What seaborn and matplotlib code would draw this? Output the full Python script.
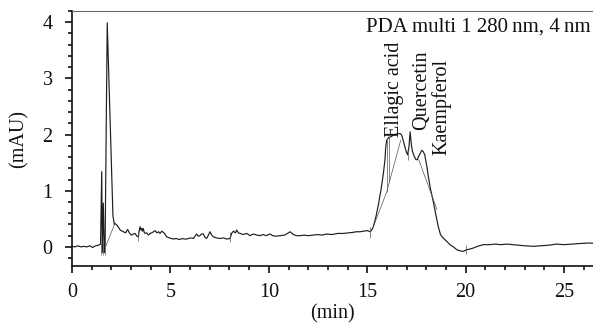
import numpy as np
import pandas as pd
import matplotlib
matplotlib.use("Agg")
import matplotlib.pyplot as plt
from matplotlib.ticker import MultipleLocator
import seaborn as sns

# Chromatogram trace (retention time in min, absorbance in mAU)
time_min = [
    0.00, 0.15, 0.30, 0.45, 0.60, 0.75, 0.90, 1.05, 1.20, 1.35, 1.45, 1.51,
    1.54, 1.59, 1.64, 1.68, 1.79, 2.08, 2.15, 2.18, 2.30, 2.45, 2.61, 2.72,
    2.83, 2.93, 3.03, 3.12, 3.20, 3.30, 3.37, 3.42, 3.46, 3.50, 3.54, 3.58,
    3.62, 3.67, 3.71, 3.80, 3.88, 3.98, 4.10, 4.22, 4.32, 4.40, 4.47, 4.56,
    4.64, 4.72, 4.81, 4.95, 5.05, 5.15, 5.30, 5.45, 5.60, 5.70, 5.83, 6.00,
    6.17, 6.25, 6.33, 6.42, 6.50, 6.58, 6.67, 6.76, 6.84, 6.93, 7.01, 7.10,
    7.18, 7.35, 7.52, 7.70, 7.85, 8.03, 8.11, 8.20, 8.30, 8.37, 8.45, 8.54,
    8.70, 8.88, 9.05, 9.21, 9.40, 9.55, 9.70, 9.85, 10.06, 10.20, 10.35,
    10.57, 10.80, 10.95, 11.08, 11.25, 11.40, 11.59, 11.80, 12.00, 12.26,
    12.50, 12.70, 12.94, 13.20, 13.50, 13.79, 14.05, 14.30, 14.45, 14.63,
    14.80, 15.00, 15.14, 15.23, 15.31, 15.45, 15.57, 15.70, 15.82, 15.90,
    15.94, 15.99, 16.10, 16.20, 16.33, 16.50, 16.67, 16.75, 16.84, 16.93,
    17.00, 17.05, 17.12, 17.18, 17.24, 17.30, 17.38, 17.46, 17.54, 17.62,
    17.70, 17.77, 17.84, 17.92, 18.02, 18.12, 18.22, 18.36, 18.48, 18.61,
    18.72, 18.85, 19.04, 19.20, 19.38, 19.55, 19.72, 19.88, 20.05, 20.20,
    20.39, 20.60, 20.90, 21.20, 21.50, 21.80, 22.09, 22.40, 22.70, 23.00,
    23.44, 23.80, 24.20, 24.63, 25.00, 25.40, 25.80, 26.30, 26.60,
]
absorbance = [
    0.01, 0.00, 0.02, 0.00, 0.01, 0.00, 0.02, -0.01, 0.02, 0.03, 0.05, 1.34,
    -0.10, 0.78, -0.10, -0.02, 3.99, 0.55, 0.40, 0.42, 0.38, 0.30, 0.27, 0.25,
    0.31, 0.24, 0.21, 0.23, 0.24, 0.19, 0.18, 0.30, 0.36, 0.30, 0.33, 0.28,
    0.33, 0.26, 0.24, 0.25, 0.21, 0.24, 0.26, 0.29, 0.25, 0.27, 0.24, 0.28,
    0.26, 0.23, 0.18, 0.16, 0.15, 0.14, 0.15, 0.13, 0.15, 0.14, 0.14, 0.16,
    0.15, 0.19, 0.23, 0.19, 0.20, 0.23, 0.23, 0.17, 0.15, 0.21, 0.27, 0.21,
    0.18, 0.16, 0.15, 0.16, 0.14, 0.15, 0.24, 0.28, 0.25, 0.30, 0.25, 0.24,
    0.22, 0.24, 0.20, 0.23, 0.21, 0.20, 0.22, 0.20, 0.23, 0.20, 0.19,
    0.20, 0.21, 0.24, 0.27, 0.22, 0.20, 0.20, 0.21, 0.20, 0.21,
    0.22, 0.21, 0.23, 0.22, 0.24, 0.24, 0.25, 0.26, 0.27, 0.27,
    0.28, 0.29, 0.27, 0.30, 0.36, 0.55, 0.76, 1.02, 1.31, 1.55,
    1.78, 1.90, 1.95, 1.96, 1.99, 2.01, 2.02, 1.99, 1.88, 1.76,
    1.68, 1.64, 1.78, 2.05, 1.82, 1.70, 1.62, 1.56, 1.55, 1.62,
    1.67, 1.72, 1.70, 1.64, 1.45, 1.22, 1.02, 0.80, 0.58, 0.36,
    0.22, 0.16, 0.10, 0.04, 0.00, -0.05, -0.07, -0.08, -0.05, -0.04,
    -0.02, 0.01, 0.04, 0.04, 0.05, 0.04, 0.05, 0.04, 0.03, 0.02,
    0.01, 0.02, 0.03, 0.05, 0.04, 0.05, 0.06, 0.07, 0.06,
]

# Integration baselines drawn by the data system
baseline_segments = [
    ([1.68, 2.18], [-0.02, 0.42]),
    ([15.31, 15.99, 16.70], [0.36, 0.98, 1.90]),
    ([17.62, 18.55], [1.55, 0.66]),
]
# Peak start/stop event markers: (time, low, high)
event_marks = [
    (1.46, -0.14, 0.07), (1.58, -0.14, 0.07), (1.69, -0.14, 0.07),
    (3.37, 0.10, 0.28), (8.03, 0.08, 0.26), (15.14, 0.16, 0.36),
    (15.99, 0.98, 1.90), (16.10, 1.15, 1.95), (17.05, 1.55, 1.72),
    (20.02, -0.12, 0.04),
]

compound_names = ["Ellagic acid", "Quercetin", "Kaempferol"]
compound_times = [16.41, 17.77, 18.79]
compound_heights = [1.96, 2.08, 1.64]

detector_label = "PDA multi 1 280\u2009nm, 4\u2009nm"

sns.set_theme(style="ticks")
plt.rcParams["font.family"] = ["Liberation Serif", "DejaVu Serif"]

fig = plt.figure(figsize=(5.93, 3.30), dpi=100)
ax = fig.add_axes([72 / 593, 64 / 330, 521 / 593, 255 / 330])

trace = pd.DataFrame({"t": time_min, "a": absorbance})
sns.lineplot(data=trace, x="t", y="a", ax=ax, color="#1e1e1e", linewidth=0.85,
             sort=False, estimator=None)

for xs, ys in baseline_segments:
    ax.plot(xs, ys, color="#555555", linewidth=0.5)
for t, lo, hi in event_marks:
    ax.vlines(t, lo, hi, color="#555555", linewidth=0.5)

for name, t, h in zip(compound_names, compound_times, compound_heights):
    ax.text(t, h, name, rotation=90, ha="center", va="bottom",
            fontsize=14.5, color="#111111")

ax.text(0.995, 0.975, detector_label, transform=ax.transAxes, ha="right",
        va="top", fontsize=15, color="#111111")

ax.set_xlim(0, 26.47)
ax.set_ylim(-0.34, 4.2)
ax.xaxis.set_major_locator(MultipleLocator(5))
ax.xaxis.set_minor_locator(MultipleLocator(1))
ax.yaxis.set_major_locator(MultipleLocator(1))
ax.yaxis.set_minor_locator(MultipleLocator(0.2))
ax.tick_params(which="major", direction="out", length=5, width=1.2,
               labelsize=14.5, colors="#111111")
ax.tick_params(axis="x", which="major", pad=7)
ax.tick_params(axis="y", which="major", pad=9)
ax.tick_params(which="minor", direction="out", length=3, width=1.2,
               colors="#111111")

ax.set_xlabel("(min)", fontsize=14.5, color="#111111", labelpad=2)
ax.set_ylabel("(mAU)", fontsize=14.5, color="#111111", labelpad=10)

ax.spines["right"].set_visible(False)
ax.spines["top"].set_color("#666666")
ax.spines["top"].set_linewidth(0.8)
for s in ("left", "bottom"):
    ax.spines[s].set_color("#111111")
    ax.spines[s].set_linewidth(1.2)

fig.savefig("out.png", dpi=100)
